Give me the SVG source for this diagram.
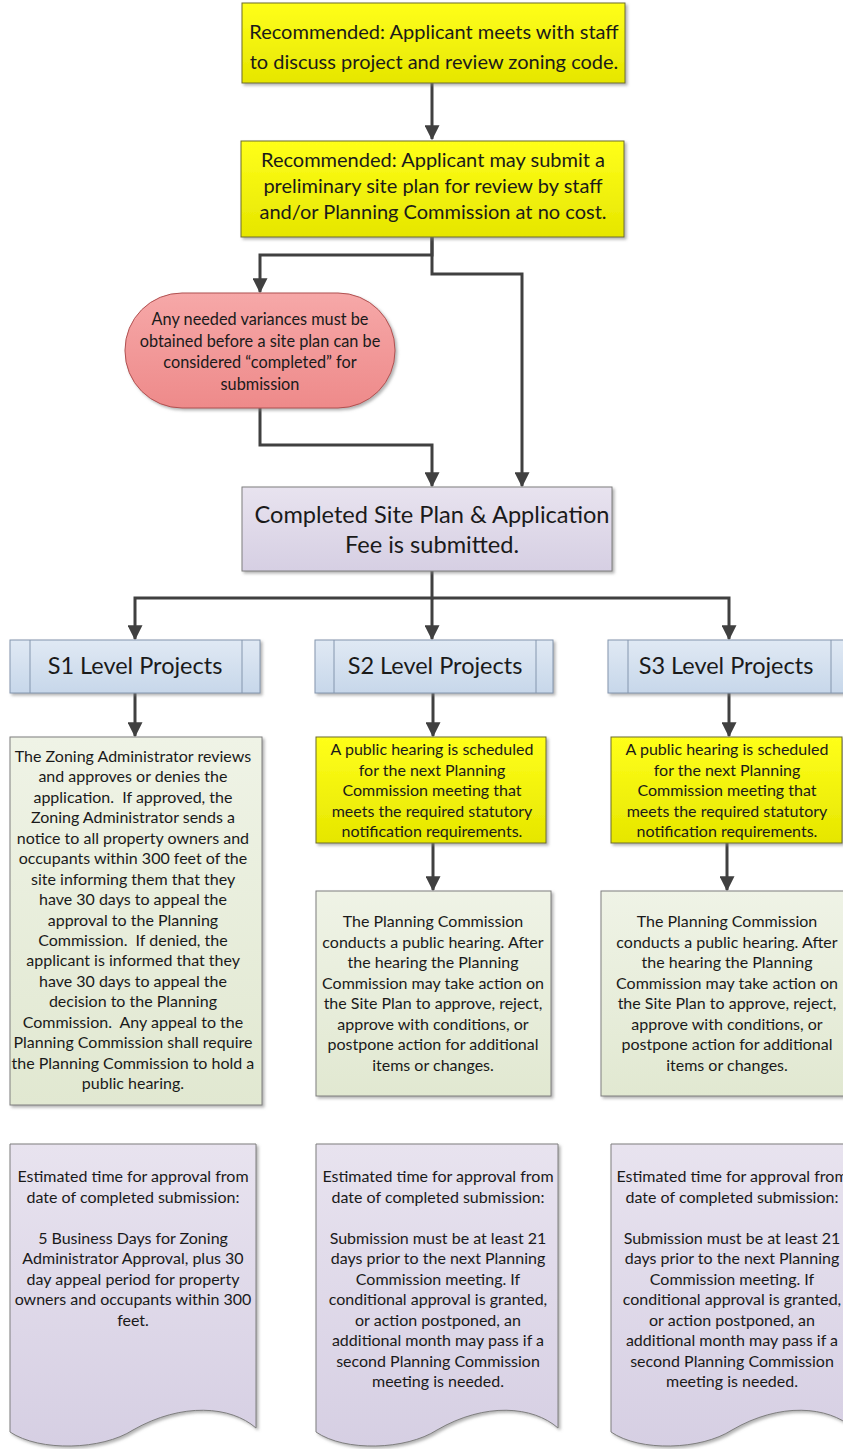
<svg xmlns="http://www.w3.org/2000/svg" width="843" height="1449" viewBox="0 0 843 1449">
<defs>
<linearGradient id="gY" x1="0" y1="0" x2="0" y2="1"><stop offset="0" stop-color="#FFFF1A"/><stop offset="1" stop-color="#E6E600"/></linearGradient>
<linearGradient id="gP" x1="0" y1="0" x2="0" y2="1"><stop offset="0" stop-color="#F6A8A8"/><stop offset="1" stop-color="#EE8A8A"/></linearGradient>
<linearGradient id="gL" x1="0" y1="0" x2="0" y2="1"><stop offset="0" stop-color="#E8E3EF"/><stop offset="1" stop-color="#D6CFE3"/></linearGradient>
<linearGradient id="gG" x1="0" y1="0" x2="0" y2="1"><stop offset="0" stop-color="#EFF3E6"/><stop offset="1" stop-color="#E1E8D1"/></linearGradient>
<linearGradient id="gB" x1="0" y1="0" x2="0" y2="1"><stop offset="0" stop-color="#E0E9F4"/><stop offset="1" stop-color="#C7D7EA"/></linearGradient>
<filter id="sh" x="-5%" y="-5%" width="115%" height="115%"><feDropShadow dx="2" dy="2" stdDeviation="1.5" flood-color="#808080" flood-opacity="0.6"/></filter>
<marker id="ah" viewBox="0 0 12 12" refX="11" refY="6" markerWidth="15" markerHeight="15" markerUnits="userSpaceOnUse" orient="auto"><path d="M0,0 L12,6 L0,12 z" fill="#404040"/></marker>
<style>
.t{font-family:Lato,"Liberation Sans",sans-serif;fill:#1a1a1a;text-anchor:middle;white-space:pre}
.c{fill:none;stroke:#404040;stroke-width:3}
.yb{fill:url(#gY);stroke:#6E6E28;stroke-width:1;filter:url(#sh)}
.pb{fill:url(#gP);stroke:#B05050;stroke-width:1;filter:url(#sh)}
.lb{fill:url(#gL);stroke:#7F7F7F;stroke-width:1;filter:url(#sh)}
.gb{fill:url(#gG);stroke:#7F7F7F;stroke-width:1;filter:url(#sh)}
.bb{fill:url(#gB);stroke:#8496AE;stroke-width:1;filter:url(#sh)}
.dv{stroke:#8496AE;stroke-width:1}
.s{font-size:16px}
</style>
</defs>
<rect width="843" height="1449" fill="#ffffff"/>

<g id="connectors">
<path class="c" d="M432,83 V139" marker-end="url(#ah)"/>
<path class="c" d="M432,237 V255 H260 V292" marker-end="url(#ah)"/>
<path class="c" d="M432,237 V274 H522 V486" marker-end="url(#ah)"/>
<path class="c" d="M260,408 V445 H432 V486" marker-end="url(#ah)"/>
<path class="c" d="M432,571 V598 H135 V639" marker-end="url(#ah)"/>
<path class="c" d="M432,598 V639" marker-end="url(#ah)"/>
<path class="c" d="M432,598 H729 V639" marker-end="url(#ah)"/>
<path class="c" d="M135,693 V736" marker-end="url(#ah)"/>
<path class="c" d="M433,693 V736" marker-end="url(#ah)"/>
<path class="c" d="M729,693 V736" marker-end="url(#ah)"/>
<path class="c" d="M433,843 V890" marker-end="url(#ah)"/>
<path class="c" d="M727,843 V890" marker-end="url(#ah)"/>
</g>

<g id="n_meet">
<rect class="yb" x="242" y="3" width="383" height="80"/>
<text class="t" font-size="20"><tspan x="434" y="39">Recommended: Applicant meets with staff</tspan><tspan x="434" y="69">to discuss project and review zoning code.</tspan></text>
</g>

<g id="n_prelim">
<rect class="yb" x="241" y="141" width="383" height="96"/>
<text class="t" font-size="20"><tspan x="433" y="167">Recommended: Applicant may submit a</tspan><tspan x="433" y="193">preliminary site plan for review by staff</tspan><tspan x="433" y="219">and/or Planning Commission at no cost.</tspan></text>
</g>

<g id="n_variance">
<rect class="pb" x="125" y="293" width="270" height="115" rx="57" ry="57"/>
<text class="t" font-size="16.3"><tspan x="260" y="325">Any needed variances must be</tspan><tspan x="260" y="346.5">obtained before a site plan can be</tspan><tspan x="260" y="368">considered “completed” for</tspan><tspan x="260" y="389.5">submission</tspan></text>
</g>

<g id="n_completed">
<rect class="lb" x="242" y="487" width="370" height="84"/>
<text class="t" font-size="23.6"><tspan x="432" y="523">Completed Site Plan &amp; Application</tspan><tspan x="432" y="553">Fee is submitted.</tspan></text>
</g>

<g id="n_s1">
<rect class="bb" x="10" y="640" width="250" height="53"/>
<line class="dv" x1="30" y1="640" x2="30" y2="693"/><line class="dv" x1="242" y1="640" x2="242" y2="693"/>
<text class="t" font-size="23.5" x="135" y="674">S1 Level Projects</text>
</g>
<g id="n_s2">
<rect class="bb" x="315" y="640" width="238" height="53"/>
<line class="dv" x1="334" y1="640" x2="334" y2="693"/><line class="dv" x1="536" y1="640" x2="536" y2="693"/>
<text class="t" font-size="23.5" x="435" y="674">S2 Level Projects</text>
</g>
<g id="n_s3">
<rect class="bb" x="608" y="640" width="245" height="53"/>
<line class="dv" x1="628" y1="640" x2="628" y2="693"/><line class="dv" x1="831" y1="640" x2="831" y2="693"/>
<text class="t" font-size="23.5" x="726" y="674">S3 Level Projects</text>
</g>

<g id="n_s1_review">
<rect class="gb" x="10" y="737" width="252" height="368"/>
<text class="t s">
<tspan x="135" y="762">The Zoning Administrator reviews</tspan>
<tspan x="135" dy="20.44">and approves or denies the</tspan>
<tspan x="135" dy="20.44">application.  If approved, the</tspan>
<tspan x="135" dy="20.44">Zoning Administrator sends a</tspan>
<tspan x="135" dy="20.44">notice to all property owners and</tspan>
<tspan x="135" dy="20.44">occupants within 300 feet of the</tspan>
<tspan x="135" dy="20.44">site informing them that they</tspan>
<tspan x="135" dy="20.44">have 30 days to appeal the</tspan>
<tspan x="135" dy="20.44">approval to the Planning</tspan>
<tspan x="135" dy="20.44">Commission.  If denied, the</tspan>
<tspan x="135" dy="20.44">applicant is informed that they</tspan>
<tspan x="135" dy="20.44">have 30 days to appeal the</tspan>
<tspan x="135" dy="20.44">decision to the Planning</tspan>
<tspan x="135" dy="20.44">Commission.  Any appeal to the</tspan>
<tspan x="135" dy="20.44">Planning Commission shall require</tspan>
<tspan x="135" dy="20.44">the Planning Commission to hold a</tspan>
<tspan x="135" dy="20.44">public hearing.</tspan>
</text>
</g>

<g id="n_s2_hearing">
<rect class="yb" x="316" y="737" width="230" height="106"/>
<text class="t s"><tspan x="432" y="755">A public hearing is scheduled</tspan><tspan x="432" dy="20.5">for the next Planning</tspan><tspan x="432" dy="20.5">Commission meeting that</tspan><tspan x="432" dy="20.5">meets the required statutory</tspan><tspan x="432" dy="20.5">notification requirements.</tspan></text>
</g>
<g id="n_s3_hearing">
<rect class="yb" x="611" y="737" width="231" height="106"/>
<text class="t s"><tspan x="727" y="755">A public hearing is scheduled</tspan><tspan x="727" dy="20.5">for the next Planning</tspan><tspan x="727" dy="20.5">Commission meeting that</tspan><tspan x="727" dy="20.5">meets the required statutory</tspan><tspan x="727" dy="20.5">notification requirements.</tspan></text>
</g>

<g id="n_s2_action">
<rect class="gb" x="316" y="891" width="235" height="205"/>
<text class="t s"><tspan x="433" y="927">The Planning Commission</tspan><tspan x="433" dy="20.5">conducts a public hearing. After</tspan><tspan x="433" dy="20.5">the hearing the Planning</tspan><tspan x="433" dy="20.5">Commission may take action on</tspan><tspan x="433" dy="20.5">the Site Plan to approve, reject,</tspan><tspan x="433" dy="20.5">approve with conditions, or</tspan><tspan x="433" dy="20.5">postpone action for additional</tspan><tspan x="433" dy="20.5">items or changes.</tspan></text>
</g>
<g id="n_s3_action">
<rect class="gb" x="601" y="891" width="250" height="205"/>
<text class="t s"><tspan x="727" y="927">The Planning Commission</tspan><tspan x="727" dy="20.5">conducts a public hearing. After</tspan><tspan x="727" dy="20.5">the hearing the Planning</tspan><tspan x="727" dy="20.5">Commission may take action on</tspan><tspan x="727" dy="20.5">the Site Plan to approve, reject,</tspan><tspan x="727" dy="20.5">approve with conditions, or</tspan><tspan x="727" dy="20.5">postpone action for additional</tspan><tspan x="727" dy="20.5">items or changes.</tspan></text>
</g>

<g id="n_s1_time">
<path class="lb" d="M10,1144 H256 V1428 C231,1406 182,1402 133,1430 C102,1450 40,1452 10,1432 Z"/>
<text class="t s"><tspan x="133" y="1182">Estimated time for approval from</tspan><tspan x="133" dy="20.5">date of completed submission:</tspan><tspan x="133" dy="41">5 Business Days for Zoning</tspan><tspan x="133" dy="20.5">Administrator Approval, plus 30</tspan><tspan x="133" dy="20.5">day appeal period for property</tspan><tspan x="133" dy="20.5">owners and occupants within 300</tspan><tspan x="133" dy="20.5">feet.</tspan></text>
</g>
<g id="n_s2_time">
<path class="lb" d="M316,1144 H558 V1428 C533,1406 485,1402 437,1430 C406,1450 345,1452 316,1432 Z"/>
<text class="t s"><tspan x="438" y="1182">Estimated time for approval from</tspan><tspan x="438" dy="20.5">date of completed submission:</tspan><tspan x="438" dy="41">Submission must be at least 21</tspan><tspan x="438" dy="20.5">days prior to the next Planning</tspan><tspan x="438" dy="20.5">Commission meeting. If</tspan><tspan x="438" dy="20.5">conditional approval is granted,</tspan><tspan x="438" dy="20.5">or action postponed, an</tspan><tspan x="438" dy="20.5">additional month may pass if a</tspan><tspan x="438" dy="20.5">second Planning Commission</tspan><tspan x="438" dy="20.5">meeting is needed.</tspan></text>
</g>
<g id="n_s3_time">
<path class="lb" d="M611,1144 H853 V1428 C828,1406 780,1402 732,1430 C701,1450 640,1452 611,1432 Z"/>
<text class="t s"><tspan x="732" y="1182">Estimated time for approval from</tspan><tspan x="732" dy="20.5">date of completed submission:</tspan><tspan x="732" dy="41">Submission must be at least 21</tspan><tspan x="732" dy="20.5">days prior to the next Planning</tspan><tspan x="732" dy="20.5">Commission meeting. If</tspan><tspan x="732" dy="20.5">conditional approval is granted,</tspan><tspan x="732" dy="20.5">or action postponed, an</tspan><tspan x="732" dy="20.5">additional month may pass if a</tspan><tspan x="732" dy="20.5">second Planning Commission</tspan><tspan x="732" dy="20.5">meeting is needed.</tspan></text>
</g>
</svg>
